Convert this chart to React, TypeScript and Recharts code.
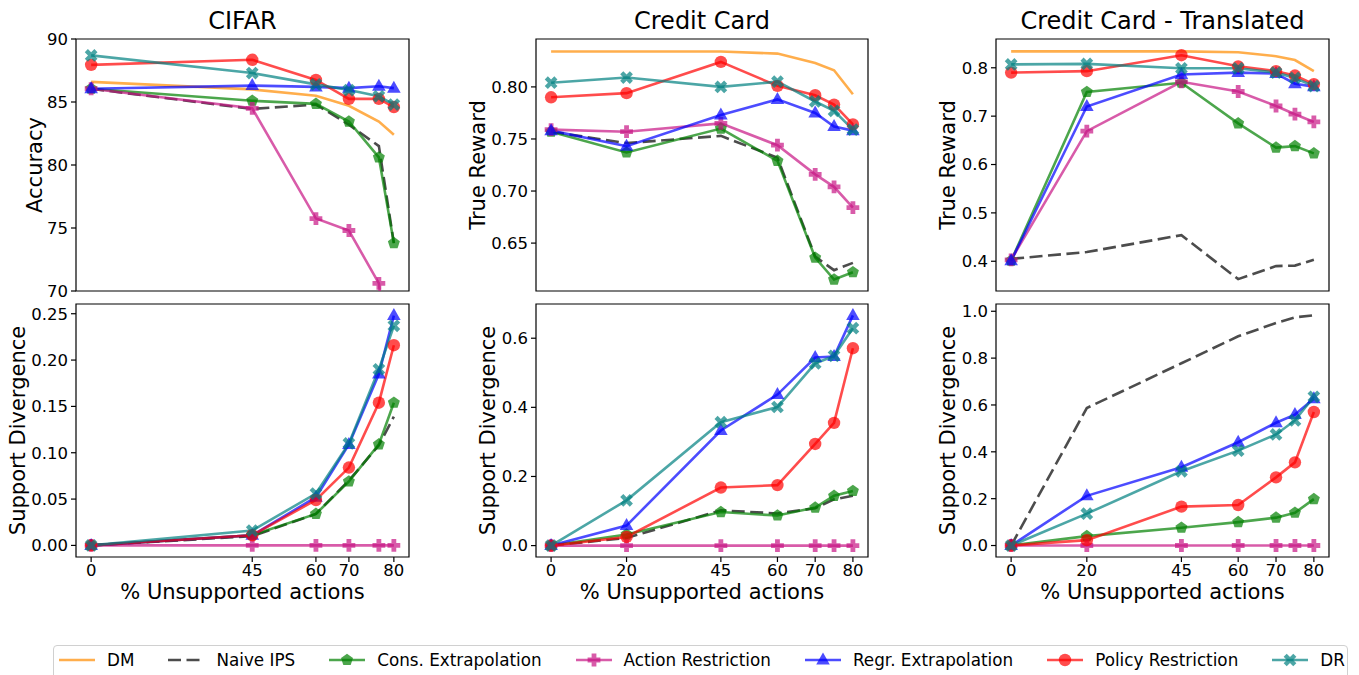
import React from "react";
import { LineChart, Line, XAxis, YAxis, ReferenceArea } from "recharts";

const FONT = '"DejaVu Sans", sans-serif';

// x positions of the measurements
const cifarX = [0, 43, 60, 68.8, 76.8, 80.8];
const creditX = [0, 20, 45, 60, 70, 75, 80];

// tick positions / labels
const topTicks = [0, 20, 40, 60, 80];
const cifarTicks = [0, 43, 60, 68.8, 80.8];
const cifarTickLabels = ["0", "45", "60", "70", "80"];
const creditTicks = [0, 20, 45, 60, 70, 80];
const creditTickLabels = ["0", "20", "45", "60", "70", "80"];

type Key = "dm" | "naive" | "cons" | "action" | "regr" | "policy" | "dr";
type Values = Partial<Record<Key, number[]>>;

// CIFAR - accuracy
const cifarAccuracy: Values = {
  dm: [86.6, 86.0, 85.5, 84.7, 83.45, 82.4],
  naive: [86.05, 84.45, 84.8, 83.2, 81.5, 73.8],
  cons: [86.05, 85.1, 84.85, 83.45, 80.6, 73.8],
  action: [86.05, 84.5, 75.75, 74.8, 70.6, 60],
  regr: [86.05, 86.3, 86.2, 86.1, 86.25, 86.1],
  policy: [87.95, 88.35, 86.75, 85.25, 85.25, 84.6],
  dr: [88.7, 87.3, 86.4, 85.95, 85.45, 84.8],
};

// CIFAR - support divergence
const cifarSupport: Values = {
  naive: [0, 0.01, 0.034, 0.07, 0.108, 0.139],
  cons: [0, 0.011, 0.034, 0.069, 0.109, 0.154],
  action: [0, 0, 0, 0, 0, 0],
  regr: [0, 0.011, 0.052, 0.109, 0.185, 0.248],
  policy: [0, 0.011, 0.049, 0.084, 0.154, 0.216],
  dr: [0, 0.016, 0.056, 0.11, 0.19, 0.237],
};

// Credit Card - true reward
const creditReward: Values = {
  dm: [0.834, 0.834, 0.834, 0.832, 0.823, 0.816, 0.793],
  naive: [0.757, 0.746, 0.753, 0.732, 0.637, 0.624, 0.631],
  cons: [0.757, 0.737, 0.76, 0.729, 0.636, 0.615, 0.622],
  action: [0.759, 0.757, 0.765, 0.744, 0.716, 0.704, 0.684],
  regr: [0.758, 0.743, 0.773, 0.788, 0.775, 0.762, 0.758],
  policy: [0.79, 0.794, 0.824, 0.801, 0.792, 0.783, 0.764],
  dr: [0.804, 0.809, 0.8, 0.805, 0.786, 0.777, 0.759],
};

// Credit Card - support divergence
const creditSupport: Values = {
  naive: [0, 0.022, 0.102, 0.093, 0.108, 0.134, 0.144],
  cons: [0, 0.032, 0.097, 0.087, 0.11, 0.144, 0.158],
  action: [0, 0, 0, 0, 0, 0, 0],
  regr: [0, 0.058, 0.333, 0.437, 0.544, 0.547, 0.666],
  policy: [0, 0.025, 0.168, 0.175, 0.294, 0.355, 0.571],
  dr: [0, 0.131, 0.357, 0.401, 0.527, 0.549, 0.629],
};

// Credit Card - Translated - true reward
const translatedReward: Values = {
  dm: [0.834, 0.834, 0.834, 0.832, 0.824, 0.816, 0.793],
  naive: [0.405, 0.419, 0.454, 0.363, 0.39, 0.391, 0.403],
  cons: [0.401, 0.75, 0.769, 0.685, 0.635, 0.638, 0.623],
  action: [0.403, 0.669, 0.771, 0.751, 0.721, 0.704, 0.688],
  regr: [0.401, 0.72, 0.786, 0.79, 0.788, 0.767, 0.761],
  policy: [0.79, 0.793, 0.826, 0.803, 0.793, 0.784, 0.766],
  dr: [0.807, 0.808, 0.799, 0.799, 0.79, 0.779, 0.762],
};

// Credit Card - Translated - support divergence
const translatedSupport: Values = {
  naive: [0, 0.587, 0.778, 0.893, 0.95, 0.974, 0.983],
  cons: [0, 0.04, 0.076, 0.1, 0.119, 0.14, 0.198],
  action: [0, 0, 0, 0, 0, 0, 0],
  regr: [0, 0.212, 0.334, 0.441, 0.524, 0.559, 0.627],
  policy: [0, 0.023, 0.166, 0.173, 0.291, 0.355, 0.57],
  dr: [0, 0.136, 0.317, 0.405, 0.474, 0.534, 0.635],
};

type Shape = "circle" | "triangle" | "pentagon" | "plus" | "x" | null;

const SERIES: { key: Key; name: string; color: string; dash?: string; shape: Shape }[] = [
  { key: "dm", name: "DM", color: "#ff8c00", shape: null },
  { key: "naive", name: "Naive IPS", color: "#000000", dash: "13 5.5", shape: null },
  { key: "cons", name: "Cons. Extrapolation", color: "#008000", shape: "pentagon" },
  { key: "action", name: "Action Restriction", color: "#c71585", shape: "plus" },
  { key: "regr", name: "Regr. Extrapolation", color: "#0000ff", shape: "triangle" },
  { key: "policy", name: "Policy Restriction", color: "#ff0000", shape: "circle" },
  { key: "dr", name: "DR", color: "#008080", shape: "x" },
];

const ALPHA = 0.7;

function toRows(xs: number[], vals: Values) {
  return xs.map((x, i) => {
    const row: any = { x };
    SERIES.forEach((s) => {
      const arr = vals[s.key];
      if (arr) row[s.key] = arr[i];
    });
    return row;
  });
}

function plusPts(a: number, e: number, rot: number) {
  const base = [
    [-a, -e], [a, -e], [a, -a], [e, -a], [e, a], [a, a],
    [a, e], [-a, e], [-a, a], [-e, a], [-e, -a], [-a, -a],
  ];
  const c = Math.cos(rot);
  const s = Math.sin(rot);
  return base.map(([x, y]) => [x * c - y * s, x * s + y * c]);
}

function Marker({ shape, cx, cy, color }: { shape: Shape; cx: number; cy: number; color: string }) {
  const common = { fill: color, fillOpacity: ALPHA, stroke: "none" };
  const poly = (pts: number[][]) => pts.map(([x, y]) => `${cx + x},${cy + y}`).join(" ");
  switch (shape) {
    case "circle":
      return <circle cx={cx} cy={cy} r={6.2} {...common} />;
    case "triangle":
      return <polygon points={poly([[0, -7.5], [6.8, 4.5], [-6.8, 4.5]])} {...common} />;
    case "pentagon": {
      const pts = [0, 1, 2, 3, 4].map((k) => {
        const ang = -Math.PI / 2 + (k * 2 * Math.PI) / 5;
        return [6.3 * Math.cos(ang), 6.3 * Math.sin(ang)];
      });
      return <polygon points={poly(pts)} {...common} />;
    }
    case "plus":
      return <polygon points={poly(plusPts(2.4, 6.4, 0))} {...common} />;
    case "x":
      return <polygon points={poly(plusPts(2.2, 6.8, Math.PI / 4))} {...common} />;
    default:
      return null;
  }
}

const makeDot = (shape: Shape, color: string) => (props: any) => {
  const { cx, cy, index } = props;
  if (cx == null || cy == null || Number.isNaN(cy)) return <g key={index} />;
  return (
    <g key={index}>
      <Marker shape={shape} cx={cx} cy={cy} color={color} />
    </g>
  );
};

const YW = 76;
const MT = 14;
const MR = 4;

type PanelProps = {
  rows: any[];
  plotLeft: number;
  plotTop: number;
  plotW: number;
  plotH: number;
  xDomain: [number, number];
  xTicks: number[];
  xTickLabels?: string[];
  yDomain: [number, number];
  yTicks: number[];
  yDigits: number;
  yLabel: string;
  yLabelX: number;
};

function Panel(p: PanelProps) {
  const bottom = !!p.xTickLabels;
  const XH = bottom ? 60 : 14;
  const chartLeft = p.plotLeft - YW;
  const chartTop = p.plotTop - MT;
  const width = YW + p.plotW + MR;
  const height = MT + p.plotH + XH;
  const tickStyle = { fontSize: 16.5, fill: "#000", fontFamily: FONT };
  const ylx = p.yLabelX - chartLeft;
  const yly = MT + p.plotH / 2;

  return (
    <div style={{ position: "absolute", left: chartLeft, top: chartTop }}>
      <LineChart width={width} height={height} data={p.rows} margin={{ top: MT, right: MR, bottom: 0, left: 0 }}>
        <XAxis
          type="number"
          dataKey="x"
          domain={p.xDomain}
          allowDataOverflow
          ticks={p.xTicks}
          interval={0}
          height={XH}
          axisLine={false}
          tickLine={{ stroke: "#000", strokeWidth: 1.2 }}
          tickSize={5}
          tickMargin={2}
          tick={bottom ? tickStyle : false}
          tickFormatter={(v: number) => (p.xTickLabels ? p.xTickLabels[p.xTicks.indexOf(v)] : "")}
          label={
            bottom
              ? {
                  content: () => (
                    <text
                      x={YW + p.plotW / 2}
                      y={MT + p.plotH + 42}
                      textAnchor="middle"
                      fontSize={21}
                      fontFamily={FONT}
                      fill="#000"
                    >
                      % Unsupported actions
                    </text>
                  ),
                }
              : undefined
          }
        />
        <YAxis
          type="number"
          domain={p.yDomain}
          allowDataOverflow
          ticks={p.yTicks}
          interval={0}
          width={YW}
          axisLine={false}
          tickLine={{ stroke: "#000", strokeWidth: 1.2 }}
          tickSize={5}
          tickMargin={3}
          tick={tickStyle}
          tickFormatter={(v: number) => v.toFixed(p.yDigits)}
          label={{
            content: () => (
              <text
                x={ylx}
                y={yly}
                transform={`rotate(-90 ${ylx} ${yly})`}
                textAnchor="middle"
                fontSize={21}
                fontFamily={FONT}
                fill="#000"
              >
                {p.yLabel}
              </text>
            ),
          }}
        />
        <ReferenceArea
          x1={p.xDomain[0]}
          x2={p.xDomain[1]}
          y1={p.yDomain[0]}
          y2={p.yDomain[1]}
          fill="none"
          fillOpacity={0}
          stroke="#000"
          strokeWidth={1.2}
          ifOverflow="visible"
        />
        {SERIES.filter((s) => p.rows[0][s.key] !== undefined).map((s) => (
          <Line
            key={s.key}
            type="linear"
            dataKey={s.key}
            stroke={s.color}
            strokeOpacity={ALPHA}
            strokeWidth={2.6}
            strokeDasharray={s.dash}
            dot={s.shape ? makeDot(s.shape, s.color) : false}
            activeDot={false}
            isAnimationActive={false}
          />
        ))}
      </LineChart>
    </div>
  );
}

function LegendHandle({ color, dash, shape }: { color: string; dash?: string; shape: Shape }) {
  return (
    <svg width={36} height={18} style={{ display: "block" }}>
      <line x1={0} y1={9} x2={36} y2={9} stroke={color} strokeOpacity={ALPHA} strokeWidth={2.6} strokeDasharray={dash} />
      {shape && <Marker shape={shape} cx={18} cy={9} color={color} />}
    </svg>
  );
}

const COLS = [
  { title: "CIFAR", plotLeft: 76, plotW: 333 },
  { title: "Credit Card", plotLeft: 536, plotW: 332 },
  { title: "Credit Card - Translated", plotLeft: 996, plotW: 333 },
];

export default function App() {
  const top = { plotTop: 39, plotH: 252 };
  const bot = { plotTop: 304, plotH: 253 };
  const cifarDom: [number, number] = [-4.04, 84.84];
  const creditDom: [number, number] = [-4, 84];

  return (
    <div
      style={{
        position: "absolute",
        left: 0,
        top: 0,
        width: 1359,
        height: 675,
        overflow: "hidden",
        background: "#fff",
        fontFamily: FONT,
      }}
    >
      <svg width={1359} height={40} style={{ position: "absolute", left: 0, top: 0 }}>
        {COLS.map((c) => (
          <text key={c.title} x={c.plotLeft + c.plotW / 2} y={29} textAnchor="middle" fontSize={24} fontFamily={FONT} fill="#000">
            {c.title}
          </text>
        ))}
      </svg>

      <Panel
        rows={toRows(cifarX, cifarAccuracy)}
        plotLeft={COLS[0].plotLeft} plotW={COLS[0].plotW} {...top}
        xDomain={cifarDom} xTicks={topTicks}
        yDomain={[70, 90]} yTicks={[70, 75, 80, 85, 90]} yDigits={0}
        yLabel="Accuracy" yLabelX={42}
      />
      <Panel
        rows={toRows(cifarX, cifarSupport)}
        plotLeft={COLS[0].plotLeft} plotW={COLS[0].plotW} {...bot}
        xDomain={cifarDom} xTicks={cifarTicks} xTickLabels={cifarTickLabels}
        yDomain={[-0.0125, 0.2605]} yTicks={[0, 0.05, 0.1, 0.15, 0.2, 0.25]} yDigits={2}
        yLabel="Support Divergence" yLabelX={25}
      />
      <Panel
        rows={toRows(creditX, creditReward)}
        plotLeft={COLS[1].plotLeft} plotW={COLS[1].plotW} {...top}
        xDomain={creditDom} xTicks={topTicks}
        yDomain={[0.604, 0.846]} yTicks={[0.65, 0.7, 0.75, 0.8]} yDigits={2}
        yLabel="True Reward" yLabelX={485}
      />
      <Panel
        rows={toRows(creditX, creditSupport)}
        plotLeft={COLS[1].plotLeft} plotW={COLS[1].plotW} {...bot}
        xDomain={creditDom} xTicks={creditTicks} xTickLabels={creditTickLabels}
        yDomain={[-0.033, 0.699]} yTicks={[0, 0.2, 0.4, 0.6]} yDigits={1}
        yLabel="Support Divergence" yLabelX={495}
      />
      <Panel
        rows={toRows(creditX, translatedReward)}
        plotLeft={COLS[2].plotLeft} plotW={COLS[2].plotW} {...top}
        xDomain={creditDom} xTicks={topTicks}
        yDomain={[0.3385, 0.8595]} yTicks={[0.4, 0.5, 0.6, 0.7, 0.8]} yDigits={1}
        yLabel="True Reward" yLabelX={955}
      />
      <Panel
        rows={toRows(creditX, translatedSupport)}
        plotLeft={COLS[2].plotLeft} plotW={COLS[2].plotW} {...bot}
        xDomain={creditDom} xTicks={creditTicks} xTickLabels={creditTickLabels}
        yDomain={[-0.049, 1.031]} yTicks={[0, 0.2, 0.4, 0.6, 0.8, 1.0]} yDigits={1}
        yLabel="Support Divergence" yLabelX={955}
      />

      <div
        style={{
          position: "absolute",
          left: 53,
          top: 645,
          width: 1295,
          height: 40,
          boxSizing: "border-box",
          border: "1px solid #d0d0d0",
          borderRadius: 4,
          padding: "5px 0 0 5px",
          display: "flex",
          alignItems: "flex-start",
        }}
      >
        {SERIES.map((s) => (
          <div key={s.key} style={{ display: "flex", alignItems: "center", height: 18, marginRight: 34 }}>
            <LegendHandle color={s.color} dash={s.dash} shape={s.shape} />
            <span style={{ marginLeft: 12, fontSize: 16.8, lineHeight: "18px", color: "#000", whiteSpace: "nowrap" }}>
              {s.name}
            </span>
          </div>
        ))}
      </div>
    </div>
  );
}
